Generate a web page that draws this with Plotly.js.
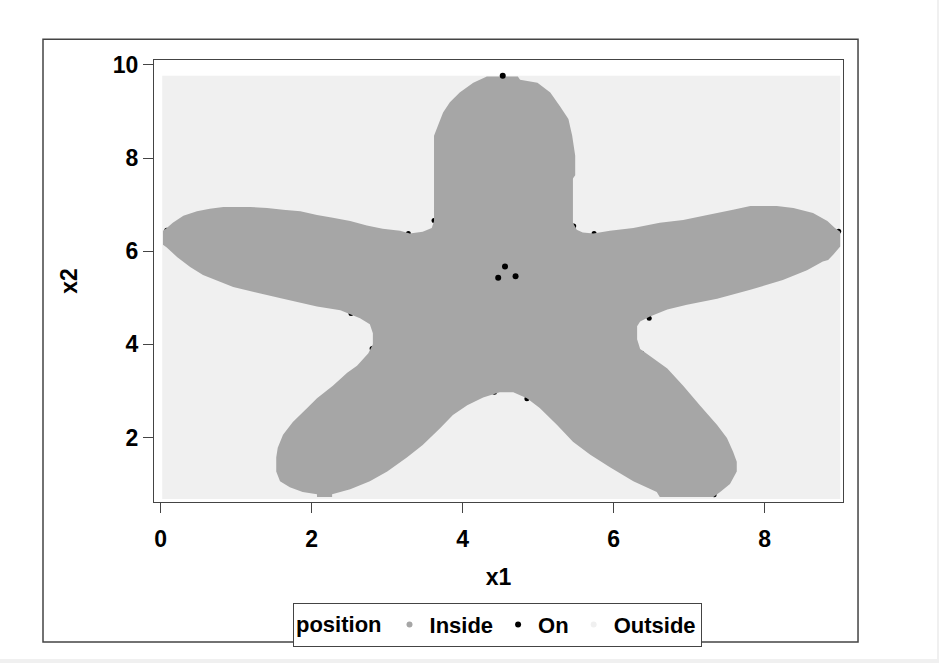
<!DOCTYPE html>
<html>
<head>
<meta charset="utf-8">
<script src="https://cdn.plot.ly/plotly-3.0.1.min.js"></script>
<style>
  html, body { margin: 0; padding: 0; background: #f0f0f0; }
  #chart { width: 937px; height: 659px; background: #ffffff; }
</style>
</head>
<body>
<div id="chart"></div>
<script>
// ---- Data ----
// Grid extent of the "Outside" points (x1, x2)
const outsideX = [0.02, 9.0, 9.0, 0.02, 0.02];
const outsideY = [0.68, 0.68, 9.77, 9.77, 0.68];

// Boundary of the "Inside" region (starfish), traced clockwise from the top
const insideX = [4.32, 4.73, 4.76, 4.99, 5.16, 5.29, 5.40, 5.45, 5.49, 5.49, 5.46, 5.46, 5.51, 5.59, 5.73,
  5.95, 6.26, 6.61, 6.92, 7.24, 7.58, 7.81, 8.16, 8.38, 8.64, 8.83, 8.93, 9.00, 9.00, 8.91, 8.84, 8.77,
  8.56, 8.24, 7.81, 7.37, 6.97, 6.71, 6.48, 6.35, 6.31, 6.31, 6.35, 6.48, 6.71, 6.92, 7.14, 7.37, 7.50,
  7.58, 7.63, 7.63, 7.54, 7.41, 7.32, 6.61, 6.57, 6.26, 5.95, 5.69, 5.46, 5.25, 5.02, 4.85, 4.67, 4.49,
  4.27, 4.06, 3.87, 3.70, 3.47, 3.26, 3.00, 2.77, 2.51, 2.27, 2.27, 2.07, 2.07, 1.88, 1.71, 1.58, 1.53,
  1.53, 1.55, 1.62, 1.75, 1.94, 2.07, 2.28, 2.47, 2.60, 2.75, 2.81, 2.81, 2.77, 2.64, 2.38, 2.07, 1.62,
  1.32, 0.96, 0.56, 0.39, 0.22, 0.08, 0.03, 0.03, 0.08, 0.16, 0.30, 0.48, 0.65, 0.83, 1.18, 1.41, 1.62,
  1.85, 2.07, 2.28, 2.51, 2.73, 2.94, 3.17, 3.30, 3.47, 3.59, 3.62, 3.62, 3.67, 3.74, 3.83, 3.96, 4.14, 4.32];
const insideY = [9.75, 9.75, 9.68, 9.62, 9.41, 9.11, 8.84, 8.48, 8.05, 7.63, 7.56, 6.61, 6.46, 6.40, 6.38,
  6.44, 6.50, 6.61, 6.67, 6.78, 6.89, 6.97, 6.97, 6.93, 6.82, 6.65, 6.50, 6.42, 6.10, 5.93, 5.81, 5.78,
  5.59, 5.38, 5.17, 4.98, 4.85, 4.75, 4.60, 4.49, 4.39, 4.11, 3.90, 3.75, 3.48, 3.11, 2.69, 2.27, 1.99,
  1.70, 1.48, 1.27, 1.00, 0.83, 0.72, 0.72, 0.83, 1.06, 1.36, 1.63, 1.91, 2.27, 2.63, 2.84, 2.97, 2.97,
  2.86, 2.69, 2.48, 2.20, 1.84, 1.57, 1.27, 1.06, 0.89, 0.78, 0.72, 0.72, 0.78, 0.83, 0.93, 1.06, 1.27,
  1.57, 1.78, 2.06, 2.33, 2.63, 2.84, 3.11, 3.39, 3.54, 3.81, 4.00, 4.24, 4.43, 4.56, 4.73, 4.81, 4.98,
  5.09, 5.23, 5.49, 5.66, 5.87, 6.08, 6.14, 6.44, 6.50, 6.61, 6.76, 6.86, 6.91, 6.95, 6.95, 6.93, 6.89,
  6.86, 6.78, 6.72, 6.65, 6.55, 6.48, 6.44, 6.38, 6.42, 6.50, 6.65, 8.48, 8.69, 8.98, 9.20, 9.41, 9.62, 9.75];

// "On" points: clearly visible ones, and ones lying on the boundary
const onX = [4.53, 4.56, 4.47, 4.70];
const onY = [9.77, 5.67, 5.43, 5.46];
const onEdgeX = [0.08, 3.28, 3.62, 2.52, 2.80, 4.42, 4.85, 6.47, 6.37, 7.33, 8.98, 5.74, 5.47];
const onEdgeY = [6.45, 6.38, 6.66, 4.66, 3.91, 2.97, 2.83, 4.56, 3.81, 0.77, 6.43, 6.38, 6.54];

const legendNames = ['Inside', 'On', 'Outside'];
const tickVals = [0, 2, 4, 6, 8];
const yTickVals = [2, 4, 6, 8, 10];

// ---- Styling ----
const cInside = '#a6a6a6';
const cOn = '#000000';
const cOutside = '#f0f0f0';
const FONT = 'Liberation Sans, Arial, Helvetica, sans-serif';
const FS = 23;

const traces = [
  { x: outsideX, y: outsideY, type: 'scatter', mode: 'none', fill: 'toself',
    fillcolor: cOutside, showlegend: false, hoverinfo: 'skip' },
  { x: onEdgeX, y: onEdgeY, type: 'scatter', mode: 'markers',
    marker: { color: cOn, size: 5 }, showlegend: false, hoverinfo: 'skip' },
  { x: insideX, y: insideY, type: 'scatter', mode: 'none', fill: 'toself',
    fillcolor: cInside, showlegend: false, hoverinfo: 'skip' },
  { x: onX, y: onY, type: 'scatter', mode: 'markers', name: legendNames[1],
    marker: { color: cOn, size: 6 }, legendrank: 2 },
  { x: [null], y: [null], type: 'scatter', mode: 'markers', name: legendNames[0],
    marker: { color: cInside, size: 6 }, legendrank: 1 },
  { x: [null], y: [null], type: 'scatter', mode: 'markers', name: legendNames[2],
    marker: { color: cOutside, size: 6 }, legendrank: 3 }
];

const axisCommon = {
  showgrid: false, zeroline: false, showline: true, mirror: true,
  linecolor: '#444', linewidth: 1, ticks: 'outside', ticklen: 10, tickwidth: 1, tickcolor: '#444',
  tickfont: { family: FONT, size: FS, color: '#000', weight: 'bold' }
};

const layout = {
  width: 937, height: 659,
  margin: { l: 154, r: 94, t: 60, b: 151 },
  paper_bgcolor: '#ffffff', plot_bgcolor: '#ffffff',
  font: { family: FONT, color: '#000' },
  xaxis: Object.assign({}, axisCommon, {
    range: [-0.089, 9.037], tickvals: tickVals, ticklabelstandoff: 6,
    title: { text: 'x1', font: { family: FONT, size: FS, weight: 'bold' }, standoff: 18 }
  }),
  yaxis: Object.assign({}, axisCommon, {
    range: [0.614, 10.106], tickvals: yTickVals,
    title: { text: 'x2', font: { family: FONT, size: FS, weight: 'bold' }, standoff: 28 }
  }),
  showlegend: true,
  legend: {
    orientation: 'h', x: 0.4985, xanchor: 'center', y: -0.228, yanchor: 'top',
    bordercolor: '#444', borderwidth: 1, bgcolor: '#ffffff',
    font: { family: FONT, size: 22, weight: 'bold', color: '#000' },
    title: { text: 'position', side: 'left', font: { family: FONT, size: 22, weight: 'bold' } },
    itemwidth: 30, tracegroupgap: 0
  },
  shapes: [{
    type: 'rect', xref: 'paper', yref: 'paper',
    x0: -0.1611, x1: 1.0218, y0: -0.3170, y1: 1.0469,
    line: { color: '#444', width: 1.5 }, fillcolor: 'rgba(0,0,0,0)', layer: 'below'
  }]
};

Plotly.newPlot('chart', traces, layout, { displayModeBar: false, staticPlot: true });
</script>
</body>
</html>
